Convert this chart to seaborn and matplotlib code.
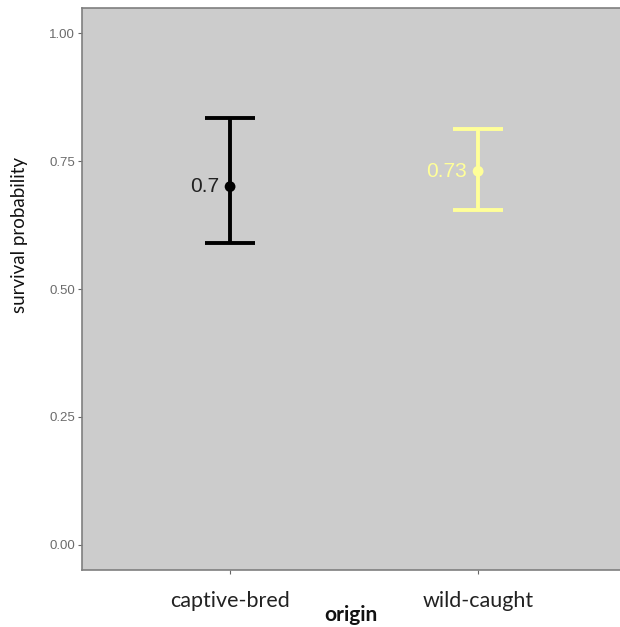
import matplotlib
matplotlib.use("Agg")
import matplotlib.pyplot as plt
import seaborn as sns
import pandas as pd

# values
origin = ["captive-bred", "wild-caught"]
survival = [0.70, 0.73]
ci_low = [0.59, 0.655]
ci_high = [0.834, 0.8125]
labels = ["0.7", "0.73"]
colours = ["#000000", "#FFFF99"]

df = pd.DataFrame({"origin": origin, "survival": survival,
                   "low": ci_low, "high": ci_high})

sns.set_style("white")
plt.rcParams["font.family"] = ["Liberation Sans", "DejaVu Sans"]

fig = plt.figure(figsize=(6.2, 6.27), dpi=100)
ax = fig.add_axes([82 / 620, 57 / 627, 538 / 620, 562 / 627])
ax.set_facecolor("#CCCCCC")

for i, row in df.iterrows():
    ax.errorbar(i, row["survival"],
                yerr=[[row["survival"] - row["low"]], [row["high"] - row["survival"]]],
                color=colours[i], lw=2.8, capsize=18, capthick=2.8, fmt="none", zorder=2)
sns.scatterplot(data=df, x="origin", y="survival", hue="origin", palette=colours,
                s=60, edgecolor="none", legend=False, ax=ax, zorder=3)

for i, row in df.iterrows():
    ax.text(i - 0.045, row["survival"], labels[i], color=colours[i] if i else "#222222",
            fontsize=15, ha="right", va="center")

ax.set_xlim(-0.597, 1.572)
ax.set_ylim(-0.049, 1.049)
ax.set_yticks([0, 0.25, 0.5, 0.75, 1.0])
ax.set_yticklabels(["0.00", "0.25", "0.50", "0.75", "1.00"])
ax.tick_params(axis="y", length=3, width=0.8, color="#666666", labelcolor="#6B6B6B",
               labelsize=9.5, pad=2, left=True)
ax.tick_params(axis="x", length=3, width=0.8, color="#666666", labelcolor="#222222",
               labelsize=15.5, pad=12, bottom=True)
for lbl in ax.get_xticklabels():
    lbl.set_family(["Lato", "DejaVu Sans"])

for side in ["left", "top", "bottom"]:
    ax.spines[side].set_color("#7F7F7F")
    ax.spines[side].set_linewidth(1.2)
ax.spines["right"].set_visible(False)

ax.set_xlabel("origin", fontsize=15, fontweight="bold", family=["Lato", "DejaVu Sans"],
              color="#111111", labelpad=-4)
ax.set_ylabel("survival probability", fontsize=13.5, family=["Lato", "DejaVu Sans"],
              color="#111111")
ax.yaxis.set_label_coords(-0.10, 0.596)

fig.savefig("out.png", dpi=100)
